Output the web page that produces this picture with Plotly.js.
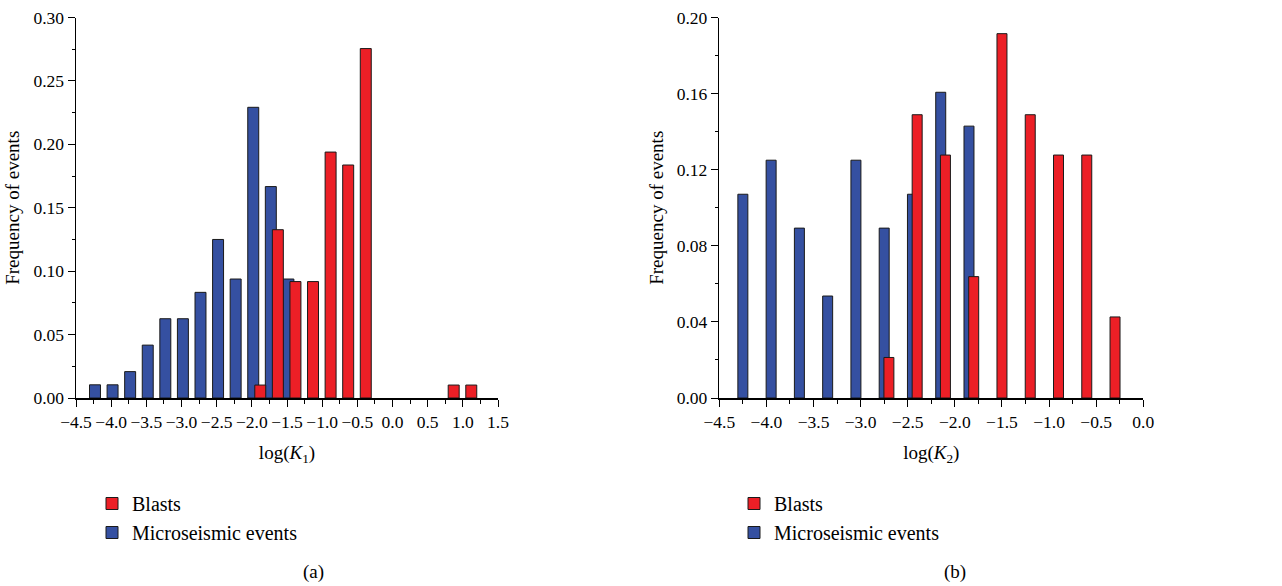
<!DOCTYPE html>
<html>
<head>
<meta charset="utf-8">
<script src="https://cdn.plot.ly/plotly-3.0.1.min.js"></script>
<style>html,body{margin:0;padding:0;background:#fff;}#chart{width:1282px;height:586px;}</style>
</head>
<body>
<div id="chart"></div>
<script>
// Panel (a): log(K1)
const k1BlueX = [-4.23, -3.98, -3.73, -3.48, -3.23, -2.98, -2.73, -2.48, -2.23, -1.98, -1.73, -1.48];
const k1BlueY = [0.0104, 0.0104, 0.0208, 0.0417, 0.0625, 0.0625, 0.0833, 0.125, 0.0938, 0.2292, 0.1667, 0.0938];
const k1RedX = [-1.88, -1.63, -1.38, -1.13, -0.88, -0.63, -0.38, 0.87, 1.12];
const k1RedY = [0.0102, 0.1327, 0.0918, 0.0918, 0.1939, 0.1837, 0.2755, 0.0102, 0.0102];
// Panel (b): log(K2)
const k2BlueX = [-4.25, -3.95, -3.65, -3.35, -3.05, -2.75, -2.45, -2.15, -1.85];
const k2BlueY = [0.1071, 0.125, 0.0893, 0.0536, 0.125, 0.0893, 0.1071, 0.1607, 0.1429];
const k2RedX = [-2.70, -2.40, -2.10, -1.80, -1.50, -1.20, -0.90, -0.60, -0.30];
const k2RedY = [0.0213, 0.1489, 0.1277, 0.0638, 0.1915, 0.1489, 0.1277, 0.1277, 0.0426];
const seriesNames = ["Microseismic events", "Blasts"];
const panelLabels = ["(a)", "(b)"];

const RED = "#ec1f26", BLUE = "#3550a1", EDGE = "#1a1a1a";
const FONT = "Liberation Serif, Times New Roman, serif";

function bar(x, y, name, color, w, xa, ya, leg) {
  return {type: "bar", x: x, y: y, name: name, width: w, xaxis: xa, yaxis: ya, legend: leg,
    marker: {color: color, line: {color: EDGE, width: 1}}, hoverinfo: "x+y"};
}

const data = [
  bar(k1BlueX, k1BlueY, seriesNames[0], BLUE, 0.156, "x", "y", "legend"),
  bar(k1RedX, k1RedY, seriesNames[1], RED, 0.156, "x", "y", "legend"),
  bar(k2BlueX, k2BlueY, seriesNames[0], BLUE, 0.106, "x2", "y2", "legend2"),
  bar(k2RedX, k2RedY, seriesNames[1], RED, 0.106, "x2", "y2", "legend2")
];

function xax(domain, range, anchor, title) {
  return {domain: domain, range: range, anchor: anchor, dtick: 0.5, tick0: 0, tickformat: ".1f",
    showgrid: false, zeroline: false, showline: true, linecolor: "#000", linewidth: 1.5,
    ticks: "outside", ticklen: 7, tickwidth: 1, tickcolor: "#000",
    minor: {dtick: 0.25, ticks: "outside", ticklen: 4, tickwidth: 1, tickcolor: "#000"},
    tickfont: {family: FONT, size: 17.5, color: "#000"},
    title: {text: title, font: {family: FONT, size: 19, color: "#000"}, standoff: 15},
    fixedrange: true};
}
function yax(domain, range, anchor, dt) {
  return {domain: domain, range: range, anchor: anchor, dtick: dt, tick0: 0, tickformat: ".2f",
    showgrid: false, zeroline: false, showline: true, linecolor: "#000", linewidth: 1.5,
    ticks: "outside", ticklen: 7, tickwidth: 1, tickcolor: "#000",
    minor: {dtick: dt / 2, ticks: "outside", ticklen: 3, tickwidth: 1, tickcolor: "#000"},
    tickfont: {family: FONT, size: 17.5, color: "#000"},
    title: {text: "Frequency of events", font: {family: FONT, size: 19, color: "#000"}, standoff: 8},
    fixedrange: true};
}

const yDom = [1 - 398 / 586, 1 - 17.5 / 586];
const legFont = {family: FONT, size: 20, color: "#000"};
const layout = {
  width: 1282, height: 586,
  margin: {l: 0, r: 0, t: 0, b: 0},
  paper_bgcolor: "#fff", plot_bgcolor: "#fff",
  barmode: "overlay",
  showlegend: true,
  xaxis: xax([76 / 1282, 498 / 1282], [-4.5, 1.5], "y", "log(<i>K</i><sub>1</sub>)"),
  yaxis: yax(yDom, [0, 0.30], "x", 0.05),
  xaxis2: xax([719.3 / 1282, 1143.3 / 1282], [-4.5, 0], "y2", "log(<i>K</i><sub>2</sub>)"),
  yaxis2: yax(yDom, [0, 0.20], "x2", 0.04),
  legend: {x: 92 / 1282, y: 1 - 484 / 586, xanchor: "left", yanchor: "top", traceorder: "reversed",
    font: legFont, bgcolor: "rgba(0,0,0,0)", borderwidth: 0, tracegroupgap: 0},
  legend2: {x: 734 / 1282, y: 1 - 484 / 586, xanchor: "left", yanchor: "top", traceorder: "reversed",
    font: legFont, bgcolor: "rgba(0,0,0,0)", borderwidth: 0, tracegroupgap: 0},
  annotations: [
    {text: panelLabels[0], xref: "paper", yref: "paper", x: 313 / 1282, y: 1 - 572 / 586,
      xanchor: "center", yanchor: "middle", showarrow: false,
      font: {family: FONT, size: 19, color: "#000"}},
    {text: panelLabels[1], xref: "paper", yref: "paper", x: 955 / 1282, y: 1 - 572 / 586,
      xanchor: "center", yanchor: "middle", showarrow: false,
      font: {family: FONT, size: 19, color: "#000"}}
  ]
};

Plotly.newPlot("chart", data, layout, {displayModeBar: false, staticPlot: true});
</script>
</body>
</html>
